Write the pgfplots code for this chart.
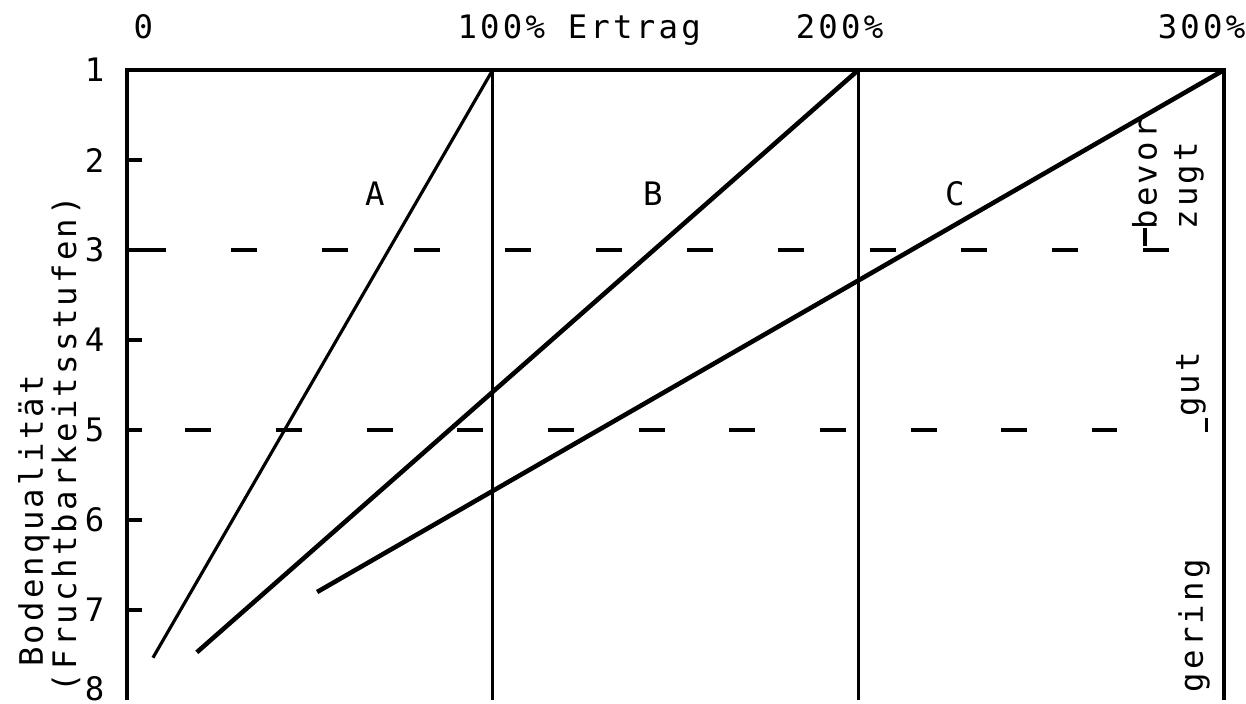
\documentclass[border=0pt]{standalone}
\usepackage{fontspec}
\setmainfont[LetterSpace=10]{DejaVu Sans Mono}
\usepackage{pgfplots}
\pgfplotsset{compat=1.18}

\begin{document}
\begin{tikzpicture}[font=\fontsize{9.2}{11}\selectfont]
\begin{axis}[
    scale only axis,
    width=10.97cm, height=6.3cm,
    xmin=0, xmax=300,
    ymin=1, ymax=8,
    y dir=reverse,
    axis line style={draw=none},
    xtick=\empty,
    ytick={1,...,7},
    ytick pos=left,
    tick align=inside,
    major tick length=0.15cm,
    every tick/.style={black, line width=0.9pt},
    yticklabel style={inner sep=0pt, xshift=-0.22cm, font=\fontsize{9.2}{11}\selectfont},
    /pgf/number format/assume math mode=true,
    clip=false,
]
% Ertragslinien
\addplot[black, line width=0.9pt] coordinates {(100,1) (7.1,7.53)};
\addplot[black, line width=1.3pt] coordinates {(200,1) (19.1,7.47)};
\addplot[black, line width=1.3pt] coordinates {(300,1) (52,6.8)};

% senkrechte Linien bei 100% und 200%
\addplot[black, line width=0.9pt] coordinates {(100,1) (100,8)};
\addplot[black, line width=0.9pt] coordinates {(200,1) (200,8)};

% Grenzen der Stufen
\addplot[black, line width=0.9pt, dash pattern=on 0.26cm off 0.652cm] coordinates {(3.55,3) (287,3)};
\addplot[black, line width=0.9pt, dash pattern=on 0.26cm off 0.647cm] coordinates {(15.9,5) (270.7,5)};
\draw[line width=0.9pt] (axis cs:278.4,2.76) -- (axis cs:278.4,2.96);
\draw[line width=0.9pt] (axis cs:295.3,4.87) -- (axis cs:295.3,5.02);

% Rahmen (unten abgeschnitten)
\draw[line width=0.9pt] (axis cs:0,8) -- (axis cs:0,1) -- (axis cs:300,1) -- (axis cs:300,8);

% obere Beschriftung
\node[anchor=base west, inner sep=0pt, yshift=0.32cm] at (axis cs:1.6,1) {0};
\node[anchor=base west, inner sep=0pt, yshift=0.32cm] at (axis cs:90.2,1) {100\% Ertrag};
\node[anchor=base west, inner sep=0pt, yshift=0.32cm] at (axis cs:182.7,1) {200\%};
\node[anchor=base west, inner sep=0pt, yshift=0.32cm] at (axis cs:281.7,1) {300\%};

\node[anchor=base east, inner sep=0pt, xshift=-0.22cm] at (axis cs:0,8) {8};

% Kurvennamen
\node at (axis cs:67.8,2.37) {A};
\node at (axis cs:143.8,2.37) {B};
\node at (axis cs:226.4,2.37) {C};

% y-Achsentitel
\node[rotate=90, anchor=base west, inner sep=0pt] at (axis cs:-23,7.64) {Bodenqualität};
\node[rotate=90, anchor=base west, inner sep=0pt] at (axis cs:-13.9,7.92) {(Fruchtbarkeitsstufen)};

% Stufen rechts
\node[rotate=90, anchor=base west, inner sep=0pt] at (axis cs:281.6,2.78) {bevor};
\node[rotate=90, anchor=base west, inner sep=0pt] at (axis cs:292.6,2.78) {zugt};
\node[rotate=90, anchor=base west, inner sep=0pt] at (axis cs:293.1,4.86) {gut};
\node[rotate=90, anchor=base west, inner sep=0pt] at (axis cs:294.2,7.92) {gering};

\coordinate (sw) at (axis cs:0,8);
\end{axis}
\pgfresetboundingbox
\path (sw) ++(-1.27cm,-0.03cm) rectangle ++(12.46cm,7.03cm);
\end{tikzpicture}
\end{document}
